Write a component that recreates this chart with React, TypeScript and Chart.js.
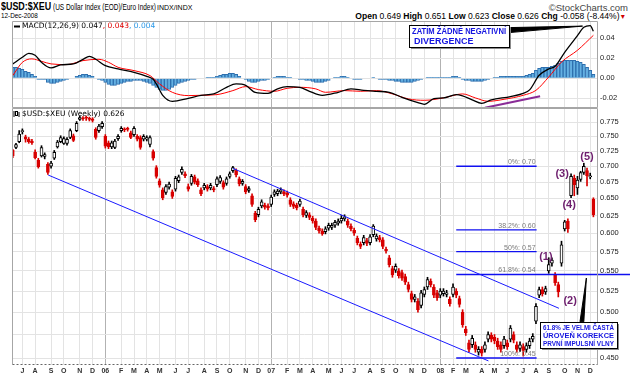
import React, { useEffect, useRef } from 'react';
import { Chart, registerables } from 'chart.js';

Chart.register(...registerables);

const SANS = '"Liberation Sans", Arial, Helvetica, sans-serif';
const DEJA = '"DejaVu Sans", Verdana, sans-serif';

// ---------------- data (weekly bars, week of Mon 13-Jun-2005 .. Mon 8-Dec-2008) ----------------
const opens = [
  0.726, 0.731, 0.741, 0.758, 0.749, 0.745, 0.742, 0.723, 0.710, 0.717,
  0.716, 0.703, 0.700, 0.713, 0.732, 0.741, 0.738, 0.738, 0.748, 0.751,
  0.760, 0.780, 0.782, 0.783, 0.782, 0.781, 0.762, 0.760, 0.767, 0.750,
  0.739, 0.732, 0.731, 0.746, 0.760, 0.763, 0.764, 0.756, 0.753, 0.750,
  0.748, 0.745, 0.745, 0.736, 0.724, 0.698, 0.677, 0.663, 0.659, 0.667,
  0.660, 0.664, 0.677, 0.690, 0.688, 0.668, 0.673, 0.683, 0.677, 0.663,
  0.666, 0.668, 0.666, 0.665, 0.671, 0.676, 0.674, 0.673, 0.684, 0.693,
  0.693, 0.680, 0.673, 0.668, 0.662, 0.654, 0.628, 0.626, 0.639, 0.640,
  0.639, 0.641, 0.656, 0.657, 0.660, 0.660, 0.658, 0.648, 0.642, 0.640,
  0.641, 0.634, 0.625, 0.626, 0.621, 0.617, 0.607, 0.603, 0.602, 0.607,
  0.608, 0.611, 0.614, 0.617, 0.620, 0.617, 0.610, 0.604, 0.593, 0.585,
  0.587, 0.590, 0.587, 0.598, 0.592, 0.594, 0.591, 0.578, 0.567, 0.553,
  0.551, 0.550, 0.548, 0.543, 0.533, 0.522, 0.515, 0.513, 0.508, 0.521,
  0.530, 0.537, 0.530, 0.523, 0.520, 0.522, 0.521, 0.515, 0.521, 0.525,
  0.516, 0.500, 0.481, 0.466, 0.464, 0.464, 0.456, 0.459, 0.459, 0.470,
  0.474, 0.472, 0.468, 0.464, 0.463, 0.466, 0.470, 0.475, 0.464, 0.460,
  0.462, 0.459, 0.463, 0.470, 0.490, 0.520, 0.527, 0.524, 0.550, 0.560,
  0.545, 0.533, 0.560, 0.606, 0.617, 0.654, 0.681, 0.666, 0.679, 0.690,
  0.693, 0.683, 0.649,
];
const highs = [
  0.728, 0.738, 0.760, 0.763, 0.752, 0.748, 0.745, 0.727, 0.713, 0.734,
  0.722, 0.706, 0.708, 0.726, 0.743, 0.751, 0.749, 0.748, 0.763, 0.754,
  0.776, 0.786, 0.785, 0.786, 0.784, 0.783, 0.765, 0.771, 0.776, 0.753,
  0.742, 0.742, 0.745, 0.753, 0.767, 0.765, 0.766, 0.759, 0.767, 0.753,
  0.751, 0.753, 0.751, 0.751, 0.727, 0.701, 0.680, 0.666, 0.671, 0.675,
  0.663, 0.684, 0.686, 0.699, 0.691, 0.672, 0.687, 0.686, 0.680, 0.666,
  0.673, 0.671, 0.673, 0.668, 0.683, 0.685, 0.677, 0.683, 0.691, 0.700,
  0.696, 0.683, 0.679, 0.671, 0.668, 0.657, 0.631, 0.637, 0.648, 0.643,
  0.642, 0.655, 0.663, 0.664, 0.666, 0.663, 0.661, 0.651, 0.645, 0.643,
  0.649, 0.637, 0.632, 0.629, 0.624, 0.620, 0.610, 0.606, 0.609, 0.614,
  0.614, 0.618, 0.620, 0.625, 0.626, 0.620, 0.613, 0.607, 0.596, 0.588,
  0.597, 0.593, 0.598, 0.612, 0.599, 0.597, 0.594, 0.581, 0.570, 0.556,
  0.559, 0.553, 0.551, 0.546, 0.536, 0.525, 0.521, 0.516, 0.526, 0.530,
  0.542, 0.540, 0.533, 0.526, 0.528, 0.528, 0.526, 0.518, 0.534, 0.528,
  0.519, 0.503, 0.484, 0.469, 0.474, 0.467, 0.462, 0.462, 0.467, 0.478,
  0.477, 0.475, 0.471, 0.467, 0.473, 0.469, 0.485, 0.478, 0.467, 0.467,
  0.465, 0.466, 0.471, 0.476, 0.510, 0.530, 0.530, 0.531, 0.567, 0.567,
  0.548, 0.536, 0.589, 0.618, 0.620, 0.688, 0.686, 0.684, 0.692, 0.705,
  0.697, 0.689, 0.651,
];
const lows = [
  0.714, 0.729, 0.739, 0.754, 0.740, 0.738, 0.736, 0.712, 0.697, 0.715,
  0.712, 0.687, 0.697, 0.711, 0.730, 0.739, 0.736, 0.735, 0.746, 0.741,
  0.758, 0.778, 0.778, 0.778, 0.777, 0.775, 0.745, 0.757, 0.764, 0.730,
  0.729, 0.729, 0.729, 0.743, 0.757, 0.758, 0.759, 0.746, 0.750, 0.742,
  0.728, 0.742, 0.742, 0.732, 0.710, 0.681, 0.667, 0.648, 0.656, 0.664,
  0.650, 0.661, 0.674, 0.687, 0.682, 0.661, 0.670, 0.672, 0.668, 0.654,
  0.663, 0.661, 0.663, 0.660, 0.668, 0.673, 0.664, 0.670, 0.681, 0.690,
  0.683, 0.669, 0.670, 0.657, 0.659, 0.638, 0.616, 0.623, 0.636, 0.634,
  0.633, 0.638, 0.653, 0.654, 0.657, 0.654, 0.652, 0.638, 0.635, 0.633,
  0.638, 0.623, 0.622, 0.619, 0.614, 0.605, 0.600, 0.597, 0.599, 0.604,
  0.605, 0.608, 0.611, 0.614, 0.617, 0.608, 0.603, 0.597, 0.584, 0.579,
  0.584, 0.583, 0.584, 0.595, 0.589, 0.588, 0.579, 0.573, 0.555, 0.542,
  0.548, 0.541, 0.538, 0.533, 0.524, 0.512, 0.512, 0.500, 0.505, 0.518,
  0.527, 0.530, 0.517, 0.514, 0.517, 0.519, 0.518, 0.507, 0.518, 0.517,
  0.506, 0.483, 0.474, 0.456, 0.461, 0.456, 0.453, 0.452, 0.456, 0.467,
  0.467, 0.465, 0.459, 0.456, 0.460, 0.459, 0.467, 0.466, 0.456, 0.457,
  0.452, 0.456, 0.460, 0.467, 0.487, 0.517, 0.519, 0.521, 0.547, 0.556,
  0.532, 0.518, 0.556, 0.603, 0.601, 0.651, 0.654, 0.656, 0.676, 0.687,
  0.669, 0.680, 0.623,
];
const closes = [
  0.717, 0.736, 0.754, 0.760, 0.745, 0.741, 0.739, 0.714, 0.699, 0.731,
  0.719, 0.690, 0.705, 0.723, 0.740, 0.748, 0.746, 0.745, 0.760, 0.743,
  0.773, 0.783, 0.781, 0.782, 0.780, 0.778, 0.748, 0.768, 0.773, 0.733,
  0.732, 0.739, 0.742, 0.750, 0.764, 0.761, 0.762, 0.748, 0.764, 0.745,
  0.731, 0.750, 0.748, 0.748, 0.713, 0.684, 0.670, 0.651, 0.668, 0.672,
  0.653, 0.681, 0.683, 0.695, 0.685, 0.664, 0.684, 0.675, 0.671, 0.657,
  0.670, 0.664, 0.670, 0.663, 0.680, 0.682, 0.667, 0.680, 0.688, 0.698,
  0.686, 0.672, 0.676, 0.660, 0.665, 0.641, 0.619, 0.634, 0.645, 0.637,
  0.636, 0.652, 0.660, 0.661, 0.663, 0.657, 0.655, 0.641, 0.638, 0.636,
  0.646, 0.626, 0.629, 0.622, 0.617, 0.608, 0.603, 0.599, 0.606, 0.611,
  0.611, 0.615, 0.617, 0.621, 0.623, 0.611, 0.606, 0.600, 0.587, 0.582,
  0.594, 0.586, 0.595, 0.610, 0.596, 0.591, 0.582, 0.576, 0.558, 0.545,
  0.556, 0.544, 0.541, 0.536, 0.527, 0.515, 0.518, 0.503, 0.523, 0.527,
  0.539, 0.533, 0.520, 0.517, 0.525, 0.525, 0.523, 0.510, 0.530, 0.520,
  0.509, 0.486, 0.477, 0.459, 0.471, 0.459, 0.459, 0.455, 0.464, 0.475,
  0.470, 0.468, 0.462, 0.459, 0.470, 0.462, 0.482, 0.469, 0.459, 0.464,
  0.458, 0.463, 0.468, 0.473, 0.507, 0.527, 0.522, 0.528, 0.558, 0.564,
  0.535, 0.524, 0.584, 0.616, 0.606, 0.684, 0.671, 0.678, 0.690, 0.700,
  0.685, 0.684, 0.626,
];

// MACD(12,26,9): [week index, value]
const macdPts = [
  [0, 0.0144], [3, 0.021], [5, 0.025], [7, 0.023], [9, 0.016], [12, 0.0104], [15, 0.0134],
  [19, 0.0144], [22, 0.019], [24, 0.022], [26, 0.019], [29, 0.0127], [33, 0.0094], [38, 0.006],
  [42, 0.002], [44, -0.001], [45, -0.0056], [47, -0.017], [50, -0.023], [55, -0.020], [59, -0.017],
  [63, -0.0156], [67, -0.009], [70, -0.0056], [73, -0.007], [76, -0.014], [80, -0.015], [83, -0.0105],
  [86, -0.0083], [90, -0.009], [93, -0.013], [97, -0.017], [102, -0.014], [106, -0.0105], [110, -0.012],
  [114, -0.013], [118, -0.014], [122, -0.019], [127, -0.0243], [129, -0.026], [132, -0.0203],
  [135, -0.0196], [139, -0.0163], [141, -0.0176], [144, -0.0216], [147, -0.025], [150, -0.0216],
  [156, -0.0183], [160, -0.015], [162, -0.0116], [165, 0.003], [168, 0.0094], [170, 0.012],
  [173, 0.026], [177, 0.0427], [179, 0.051], [181, 0.0527], [182, 0.047],
];
const signalPts = [
  [0, 0.0027], [3, 0.016], [6, 0.0194], [9, 0.017], [12, 0.0144], [17, 0.0137], [22, 0.0177],
  [27, 0.019], [30, 0.016], [33, 0.011], [38, 0.0077], [43, 0.0027], [46, -0.0056], [50, -0.014],
  [55, -0.0173], [59, -0.017], [64, -0.0163], [69, -0.0123], [73, -0.0083], [77, -0.0113],
  [82, -0.013], [86, -0.010], [90, -0.009], [95, -0.0106], [98, -0.014], [104, -0.0123],
  [109, -0.013], [114, -0.0123], [119, -0.0156], [124, -0.0206], [129, -0.022], [135, -0.0196],
  [141, -0.0156], [145, -0.0196], [149, -0.023], [154, -0.021], [160, -0.017], [164, -0.012],
  [168, 0.0013], [172, 0.0163], [177, 0.028], [182, 0.043],
];
const histVals = [
  0.011, 0.011, 0.010, 0.009, 0.007, 0.006, 0.004, 0.002, -0.001, -0.001,
  -0.001, -0.004, -0.005, -0.005, -0.004, -0.003, -0.002, -0.001, 0, 0,
  0.002, 0.003, 0.004, 0.004, 0.003, 0.002, 0, -0.001, -0.002, -0.004,
  -0.006, -0.007, -0.007, -0.006, -0.005, -0.004, -0.003, -0.003, -0.002, -0.002,
  -0.002, -0.003, -0.004, -0.005, -0.007, -0.009, -0.011, -0.012, -0.012, -0.011,
  -0.009, -0.007, -0.005, -0.004, -0.003, -0.002, -0.001, -0.001, 0, 0,
  0, 0.001, 0.001, 0.001, 0.002, 0.003, 0.004, 0.004, 0.005, 0.005,
  0.004, 0.002, 0, -0.001, -0.003, -0.004, -0.004, -0.003, -0.002, -0.002,
  -0.001, 0, 0.001, 0.002, 0.002, 0.002, 0.001, 0.001, 0, 0,
  -0.001, -0.001, -0.002, -0.002, -0.003, -0.004, -0.004, -0.004, -0.003, -0.002,
  0, 0.001, 0.001, 0.002, 0.002, 0.001, 0, -0.001, -0.001, -0.001,
  0, 0, 0, 0.001, 0, -0.001, -0.001, -0.001, -0.002, -0.002,
  -0.003, -0.003, -0.004, -0.004, -0.004, -0.004, -0.003, -0.002, -0.001, 0,
  0.001, 0.001, 0.001, 0.001, 0.001, 0.001, 0.001, 0.001, 0.002, 0.002,
  0.001, -0.001, -0.002, -0.002, -0.003, -0.003, -0.003, -0.003, -0.002, -0.001,
  0, 0.001, 0.001, 0.002, 0.002, 0.002, 0.002, 0.002, 0.002, 0.002,
  0.002, 0.003, 0.004, 0.005, 0.008, 0.010, 0.011, 0.011, 0.011, 0.012,
  0.013, 0.015, 0.017, 0.018, 0.018, 0.018, 0.018, 0.017, 0.016, 0.014,
  0.011, 0.008, 0.004,
];

const priceTicks = [0.45, 0.475, 0.5, 0.525, 0.55, 0.575, 0.6, 0.625, 0.65, 0.675, 0.7, 0.725, 0.75, 0.775];
const hiddenPriceLabels = [0.475];
const macdTicks = [-0.02, 0, 0.02, 0.04];

// annotations (week index / price)
const fibLevels = [0.70, 0.6045, 0.575, 0.5455, 0.45];
const fibLabels = ['0%: 0.70', '38.2%: 0.60', '50%: 0.57', '61.8%: 0.54', '100%: 0.45'];
const fibRange = [139, 164.2];
const fibExtendTo = 193.5;
const lowerChannel = [[11.1, 0.686], [149.1, 0.447]];
const upperChannel = [[69, 0.6966], [171.2, 0.5046]];
const waveLabels = ['(1)', '(2)', '(3)', '(4)', '(5)'];
const waveX = [167.1, 174.7, 172.2, 174.4, 180];
const waveY = [0.568, 0.513, 0.6877, 0.640, 0.715];
const priceNote = ['61.8% JE VELMI ČASTÁ', 'ÚROVEŇ KOREKCE', 'PRVNÍ IMPULSNÍ VLNY'];
const priceNoteBox = [165.3, 189.4, 0.4892, 0.4602];
const pricePointer = [[177.8, 0.4892], [179.0, 0.4892], [179.8, 0.5411]];
const macdNote = ['ZATÍM ŽÁDNÉ NEGATIVNÍ', 'DIVERGENCE'];
const macdNoteBox = [124.3, 155.6, 0.0537, 0.0317];
const macdPointer = [[155.6, 0.0507], [155.6, 0.0457], [178.6, 0.0522]];
const divergenceLine = [[148, -0.0295], [165.3, -0.018]];

// ---------------- derived axis helpers ----------------
const n = closes.length;
const weekDates = Array.from({ length: n }, (_, i) => new Date(Date.UTC(2005, 5, 13 + 7 * i)));
const monthTicks: number[] = [];
const monthLabels: Record<number, string> = {};
const yearTicks = new Set<number>();
for (let i = 1; i < n; i++) {
  const m = weekDates[i].getUTCMonth();
  if (m !== weekDates[i - 1].getUTCMonth()) {
    monthTicks.push(i);
    if (m === 0) {
      yearTicks.add(i);
      monthLabels[i] = String(weekDates[i].getUTCFullYear() % 100).padStart(2, '0');
    } else {
      monthLabels[i] = 'JFMAMJJASOND'[m];
    }
  }
}

const RED = '#d80000';
const isUp = (i: number) => closes[i] >= opens[i];

function zeroPad(s: any) {
  s.paddingTop = 0; s.paddingBottom = 0; s.paddingLeft = 0; s.paddingRight = 0;
}

function xScale(showLabels: boolean, height: number): any {
  return {
    type: 'linear',
    min: -0.25,
    max: 183.13,
    offset: false,
    afterBuildTicks: (s: any) => { s.ticks = monthTicks.map((v) => ({ value: v })); },
    afterFit: (s: any) => { s.height = height; zeroPad(s); },
    border: { display: false },
    grid: {
      drawTicks: false,
      offset: false,
      lineWidth: 1,
      color: (c: any) => (c.tick && yearTicks.has(c.tick.value) ? '#b2b2b2' : '#e3e3e3'),
    },
    ticks: {
      display: showLabels,
      autoSkip: false,
      maxRotation: 0,
      minRotation: 0,
      padding: 2,
      color: '#333',
      font: { family: SANS, size: 7, weight: 'bold' },
      callback: (v: any) => monthLabels[v] ?? '',
    },
  };
}

function drawFrame(ctx: any, a: any, dashedBottom: boolean) {
  const L = Math.round(a.left) + 0.5, R = Math.round(a.right) + 0.5;
  const T = Math.round(a.top) + 0.5, B = Math.round(a.bottom) - 0.5;
  ctx.save();
  ctx.strokeStyle = '#a6a6a6';
  ctx.lineWidth = 1;
  ctx.beginPath();
  ctx.moveTo(L, B); ctx.lineTo(L, T); ctx.lineTo(R, T); ctx.lineTo(R, B);
  if (!dashedBottom) ctx.lineTo(L, B);
  ctx.stroke();
  if (dashedBottom) {
    ctx.setLineDash([2, 2]);
    ctx.strokeStyle = '#666';
    ctx.beginPath(); ctx.moveTo(L, B); ctx.lineTo(R, B); ctx.stroke();
  }
  ctx.restore();
}

function noteBox(ctx: any, x0: number, y0: number, x1: number, y1: number, lines: string[], font: string, offsets: number[], indents: number[], maxW: number) {
  const X0 = Math.round(x0), Y0 = Math.round(y0), X1 = Math.round(x1), Y1 = Math.round(y1);
  ctx.fillStyle = '#8a8a8a';
  ctx.fillRect(X0 + 2, Y0 + 2, X1 - X0, Y1 - Y0);
  ctx.fillStyle = '#fff';
  ctx.fillRect(X0, Y0, X1 - X0, Y1 - Y0);
  ctx.strokeStyle = '#000';
  ctx.lineWidth = 1;
  ctx.strokeRect(X0 + 0.5, Y0 + 0.5, X1 - X0, Y1 - Y0);
  ctx.font = font;
  ctx.fillStyle = '#1414e0';
  ctx.textAlign = 'left';
  ctx.textBaseline = 'middle';
  lines.forEach((t, k) => ctx.fillText(t, X0 + indents[k], Y0 + offsets[k], maxW));
}

function wedge(ctx: any, pts: number[][]) {
  ctx.fillStyle = '#000';
  ctx.beginPath();
  ctx.moveTo(pts[0][0], pts[0][1]);
  ctx.lineTo(pts[1][0], pts[1][1]);
  ctx.lineTo(pts[2][0], pts[2][1]);
  ctx.closePath();
  ctx.fill();
  ctx.strokeStyle = '#000';
  ctx.lineWidth = 1;
  ctx.stroke();
}

const macdDecor = {
  id: 'macdDecor',
  afterDraw(chart: any) {
    const { ctx, chartArea: a, scales } = chart;
    const px = (i: number) => scales.x.getPixelForValue(i);
    const py = (v: number) => scales.y.getPixelForValue(v);
    ctx.save();
    drawFrame(ctx, a, false);
    // legend
    const ly = a.top + 5.5;
    ctx.strokeStyle = '#000';
    ctx.lineWidth = 2;
    ctx.beginPath(); ctx.moveTo(a.left + 2, ly); ctx.lineTo(a.left + 8, ly); ctx.stroke();
    ctx.font = `7.5px ${DEJA}`;
    ctx.textAlign = 'left';
    ctx.textBaseline = 'middle';
    let tx = a.left + 10;
    const parts: [string, string][] = [['MACD(12,26,9) 0.047', '#000'], [', 0.043', '#e00000'], [', 0.004', '#2a98e8']];
    parts.forEach(([t, c]) => { ctx.fillStyle = c; ctx.fillText(t, tx, ly); tx += ctx.measureText(t).width; });
    // callout + note
    wedge(ctx, macdPointer.map(([i, v]) => [px(i), py(v)]));
    noteBox(ctx, px(macdNoteBox[0]), py(macdNoteBox[2]), px(macdNoteBox[1]), py(macdNoteBox[3]),
      macdNote, `bold 9px ${SANS}`, [6.5, 16.5], [3, 5], 94);
    ctx.restore();
  },
};

const priceDecor = {
  id: 'priceDecor',
  afterDraw(chart: any) {
    const { ctx, chartArea: a, scales } = chart;
    const px = (i: number) => scales.x.getPixelForValue(i);
    const py = (v: number) => scales.y.getPixelForValue(v);
    ctx.save();
    drawFrame(ctx, a, true);
    // legend
    const ly = a.top + 6;
    ctx.fillStyle = '#000';
    ctx.fillRect(a.left + 1.5, ly - 3, 1, 6);
    ctx.strokeStyle = '#000'; ctx.lineWidth = 1;
    ctx.strokeRect(a.left + 3.5, ly - 2.5, 2, 4);
    ctx.fillRect(a.left + 6.5, ly - 2, 1, 5);
    ctx.font = `7.5px ${DEJA}`;
    ctx.textAlign = 'left';
    ctx.textBaseline = 'middle';
    ctx.fillText('$USD:$XEU (Weekly) 0.626', a.left + 10, ly);
    // fibonacci labels
    ctx.font = `7px ${SANS}`;
    ctx.fillStyle = '#7a7a7a';
    ctx.textAlign = 'right';
    ctx.textBaseline = 'alphabetic';
    fibLevels.forEach((lv, k) => ctx.fillText(fibLabels[k], px(fibRange[1]) - 1, py(lv) - 2));
    // wave counts
    ctx.font = `bold 11px ${SANS}`;
    ctx.fillStyle = '#6e1f6e';
    ctx.textAlign = 'center';
    ctx.textBaseline = 'middle';
    waveLabels.forEach((t, k) => ctx.fillText(t, px(waveX[k]), py(waveY[k])));
    // callout + note
    wedge(ctx, pricePointer.map(([i, v]) => [px(i), py(v)]));
    noteBox(ctx, px(priceNoteBox[0]), py(priceNoteBox[2]), px(priceNoteBox[1]), py(priceNoteBox[3]),
      priceNote, `bold 7.5px ${SANS}`, [5.5, 14, 22], [3, 3, 3], 71);
    ctx.restore();
  },
};

function lineDs(pts: number[][], color: string, width: number, extra: any = {}) {
  return {
    type: 'line',
    data: pts.map(([x, y]) => ({ x, y })),
    borderColor: color,
    borderWidth: width,
    pointRadius: 0,
    fill: false,
    order: 1,
    ...extra,
  };
}

export default function App() {
  const macdRef = useRef<HTMLCanvasElement>(null);
  const priceRef = useRef<HTMLCanvasElement>(null);

  useEffect(() => {
    const common: any = {
      responsive: false,
      maintainAspectRatio: false,
      animation: false,
      devicePixelRatio: 1,
      events: [],
      plugins: { legend: { display: false }, tooltip: { enabled: false } },
    };

    const macdChart = new Chart(macdRef.current as HTMLCanvasElement, {
      type: 'bar',
      data: {
        datasets: [
          lineDs(macdPts, '#000', 1.3, { tension: 0.4, cubicInterpolationMode: 'monotone', order: 1 }),
          lineDs(signalPts, '#ff0000', 1, { tension: 0.4, cubicInterpolationMode: 'monotone', order: 2 }),
          lineDs(divergenceLine, '#8a2c97', 2, { order: 0, clip: false }),
          {
            type: 'bar',
            data: histVals.map((v, i) => ({ x: i, y: v })),
            backgroundColor: '#63b0e2',
            borderColor: '#2e6fae',
            borderWidth: 1,
            barThickness: 3.19,
            grouped: false,
            order: 5,
          },
        ] as any,
      },
      options: {
        ...common,
        layout: { padding: { left: 12, top: 1, right: 0, bottom: 1 } },
        scales: {
          x: xScale(false, 0),
          y: {
            type: 'linear',
            position: 'right',
            min: -0.0297,
            max: 0.0573,
            afterBuildTicks: (s: any) => { s.ticks = macdTicks.map((v) => ({ value: v })); },
            afterFit: (s: any) => { s.width = 33; zeroPad(s); },
            border: { display: false },
            grid: { drawTicks: false, color: '#e3e3e3' },
            ticks: { padding: 3, color: '#222', font: { family: SANS, size: 7.5 }, callback: (v: any) => Number(v).toFixed(2) },
          },
        },
      } as any,
      plugins: [macdDecor],
    });

    const priceChart = new Chart(priceRef.current as HTMLCanvasElement, {
      type: 'bar',
      data: {
        datasets: [
          lineDs(lowerChannel, '#1a1aff', 1),
          lineDs(upperChannel, '#1a1aff', 1),
          ...fibLevels.map((lv, k) =>
            lineDs([[fibRange[0], lv], [k === 3 ? fibExtendTo : fibRange[1], lv]], '#1010f0', 1.3, { clip: false })),
          {
            type: 'bar',
            data: opens.map((o, i) => ({ x: i, y: [o, closes[i]] })),
            backgroundColor: opens.map((_, i) => (isUp(i) ? '#ffffff' : RED)),
            borderColor: opens.map((_, i) => (isUp(i) ? '#000000' : RED)),
            borderWidth: 1,
            borderSkipped: false,
            barThickness: 3,
            minBarLength: 1,
            grouped: false,
            order: 4,
          },
          {
            type: 'bar',
            data: lows.map((l, i) => ({ x: i, y: [l, highs[i]] })),
            backgroundColor: opens.map((_, i) => (isUp(i) ? '#000000' : RED)),
            borderWidth: 0,
            barThickness: 1,
            grouped: false,
            order: 5,
          },
        ] as any,
      },
      options: {
        ...common,
        layout: { padding: { left: 12, top: 1, right: 0, bottom: 0 } },
        scales: {
          x: xScale(true, 11),
          y: {
            type: 'logarithmic',
            position: 'right',
            min: 0.4428,
            max: 0.8006,
            afterBuildTicks: (s: any) => { s.ticks = priceTicks.map((v) => ({ value: v })); },
            afterFit: (s: any) => { s.width = 33; zeroPad(s); },
            border: { display: false },
            grid: { drawTicks: false, color: '#e3e3e3' },
            ticks: {
              padding: 3,
              color: '#222',
              font: { family: SANS, size: 7.5 },
              callback: (v: any) => (hiddenPriceLabels.includes(v) ? '' : Number(v).toFixed(3)),
            },
          },
        },
      } as any,
      plugins: [priceDecor],
    });

    return () => { macdChart.destroy(); priceChart.destroy(); };
  }, []);

  const abs = (s: any) => ({ position: 'absolute', whiteSpace: 'nowrap', ...s });

  return (
    <div style={{ position: 'fixed', left: 0, top: 0, width: 630, height: 376, background: '#fff', overflow: 'hidden', fontFamily: SANS, color: '#000' }}>
      <div style={abs({ left: 1, top: 1, fontSize: 10.5, fontWeight: 'bold', lineHeight: '11px', transform: 'scaleX(0.85)', transformOrigin: '0 0' })}>$USD:$XEU</div>
      <div style={abs({ left: 53, top: 2.5, fontSize: 8.3, lineHeight: '9px', transform: 'scaleX(0.78)', transformOrigin: '0 0' })}>(US Dollar Index (EOD)/Euro Index)</div>
      <div style={abs({ left: 157, top: 4, fontSize: 7, lineHeight: '8px' })}>INDX/INDX</div>
      <div style={abs({ right: 2, top: 3, fontSize: 9.5, lineHeight: '10px', color: '#444' })}>©StockCharts.com</div>
      <div style={abs({ left: 1, top: 12, fontSize: 7.5, lineHeight: '8px', transform: 'scaleX(0.85)', transformOrigin: '0 0' })}>12-Dec-2008</div>
      <div style={abs({ right: 4, top: 12, fontSize: 9, lineHeight: '9px', transform: 'scaleX(0.95)', transformOrigin: '100% 0' })}>
        <b>Open</b> 0.649 <b>High</b> 0.651 <b>Low</b> 0.623 <b>Close</b> 0.626 <b>Chg</b> -0.058 (-8.44%)<span style={{ color: '#d00000', fontSize: 7 }}>▼</span>
      </div>
      <canvas ref={macdRef} width={630} height={89} style={{ position: 'absolute', left: 0, top: 20, width: 630, height: 89 }} />
      <canvas ref={priceRef} width={630} height={269} style={{ position: 'absolute', left: 0, top: 107, width: 630, height: 269 }} />
    </div>
  );
}
